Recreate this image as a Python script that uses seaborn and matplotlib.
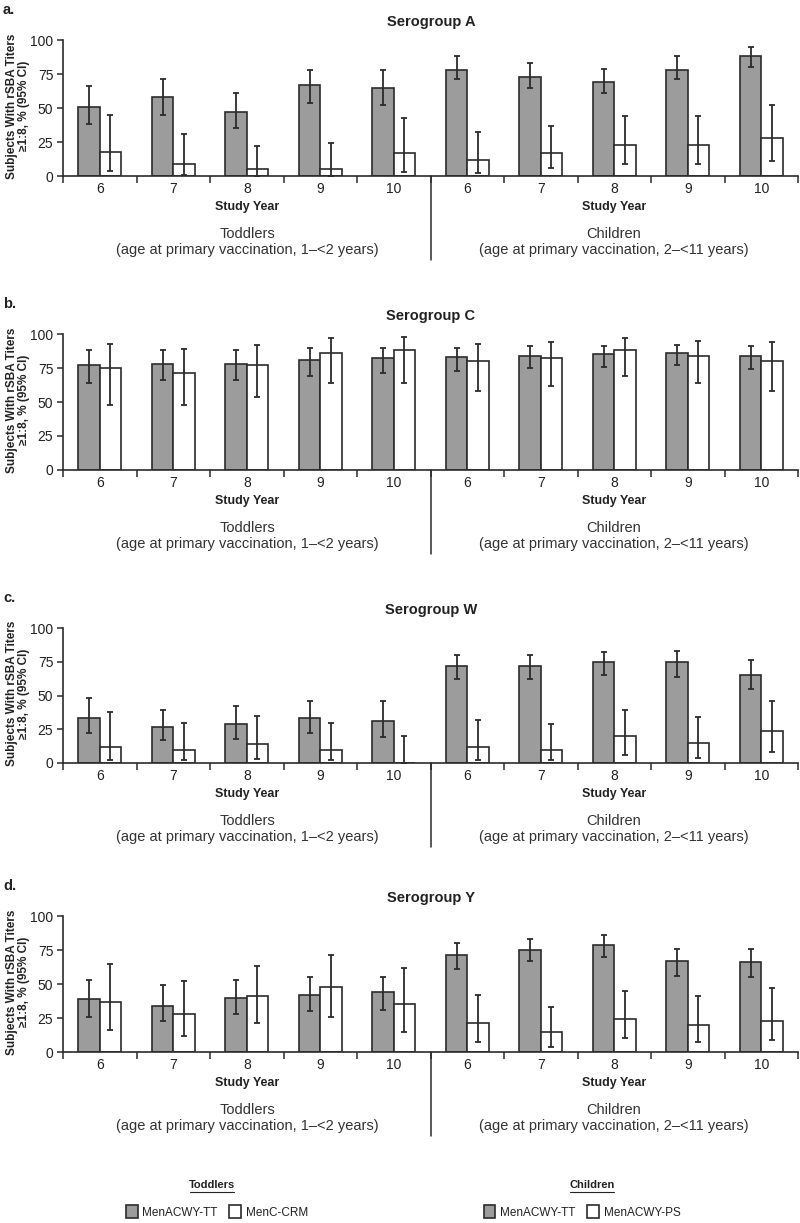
import numpy as np
import pandas as pd
import matplotlib
matplotlib.use("Agg")
import matplotlib.pyplot as plt
from matplotlib.lines import Line2D
import seaborn as sns

# x positions: toddlers years 6-10, then children years 6-10
years = [6, 7, 8, 9, 10, 6, 7, 8, 9, 10]

# Serogroup A
a_tt = [51, 58, 47, 67, 65, 78, 73, 69, 78, 88]
a_tt_lo = [38, 45, 35, 54, 52, 71, 65, 61, 71, 80]
a_tt_hi = [66, 71, 61, 78, 78, 88, 83, 79, 88, 95]
a_cmp = [18, 9, 5, 5, 17, 12, 17, 23, 23, 28]
a_cmp_lo = [4, 1, 0, 0, 3, 2, 6, 9, 9, 11]
a_cmp_hi = [45, 31, 22, 24, 43, 32, 37, 44, 44, 52]

# Serogroup C
c_tt = [77, 78, 78, 81, 82, 83, 84, 85, 86, 84]
c_tt_lo = [64, 66, 66, 69, 71, 73, 75, 76, 77, 74]
c_tt_hi = [88, 88, 88, 90, 90, 90, 91, 91, 92, 91]
c_cmp = [75, 71, 77, 86, 88, 80, 82, 88, 84, 80]
c_cmp_lo = [48, 48, 54, 64, 64, 58, 62, 69, 64, 58]
c_cmp_hi = [93, 89, 92, 97, 98, 93, 94, 97, 95, 94]

# Serogroup W
w_tt = [33, 27, 29, 33, 31, 72, 72, 75, 75, 65]
w_tt_lo = [22, 17, 18, 22, 19, 62, 62, 65, 64, 55]
w_tt_hi = [48, 39, 42, 46, 46, 80, 80, 82, 83, 76]
w_cmp = [12, 10, 14, 10, 0, 12, 10, 20, 15, 24]
w_cmp_lo = [2, 2, 3, 2, 0, 2, 2, 6, 4, 8]
w_cmp_hi = [38, 30, 35, 30, 20, 32, 29, 39, 34, 46]

# Serogroup Y
y_tt = [39, 34, 40, 42, 44, 71, 75, 79, 67, 66]
y_tt_lo = [26, 23, 28, 30, 31, 61, 67, 70, 56, 55]
y_tt_hi = [53, 49, 53, 55, 55, 80, 83, 86, 76, 76]
y_cmp = [37, 28, 41, 48, 35, 21, 15, 24, 20, 23]
y_cmp_lo = [16, 12, 21, 26, 15, 7, 4, 10, 7, 9]
y_cmp_hi = [65, 52, 63, 71, 62, 42, 33, 45, 41, 47]

GRAY = '#9c9c9c'
EDGE = '#2b2b2b'
TXT = '#222222'
W, H = 800, 1223


def fx(x):
    return x / W


def fy(y):
    return 1 - y / H


def draw_panel(fig, letter, title, tt, tt_lo, tt_hi, cmp, cmp_lo, cmp_hi, top, zero):
    ax = fig.add_axes([fx(63), fy(zero), fx(798) - fx(63), (zero - top) / H])
    df = pd.DataFrame({
        'slot': list(range(10)) * 2,
        'arm': ['MenACWY-TT'] * 10 + ['Comparator'] * 10,
        'pct': tt + cmp,
    })
    sns.barplot(data=df, x='slot', y='pct', hue='arm',
                hue_order=['MenACWY-TT', 'Comparator'],
                palette=[GRAY, 'white'], width=0.58, gap=0,
                edgecolor=EDGE, linewidth=1.2, errorbar=None,
                legend=False, ax=ax)
    # confidence intervals on top of each bar
    for cont, mid, lo, hi in zip(ax.containers, [tt, cmp], [tt_lo, cmp_lo], [tt_hi, cmp_hi]):
        xs = [b.get_x() + b.get_width() / 2 for b in cont]
        mid = np.array(mid)
        err = [mid - np.array(lo), np.array(hi) - mid]
        ax.errorbar(xs, mid, yerr=err, fmt='none', ecolor=EDGE,
                    elinewidth=1.3, capsize=2.5, capthick=1.3, zorder=5)

    ax.set_xlim(-0.5, 9.5)
    ax.set_ylim(0, 100)
    ax.set_xticks(np.arange(-0.5, 10, 1))
    ax.set_xticklabels([])
    ax.set_xticks(range(10), minor=True)
    ax.set_xticklabels([str(y) for y in years], minor=True)
    ax.tick_params(axis='x', which='major', direction='out', length=5, width=1.1, color=EDGE)
    ax.tick_params(axis='x', which='minor', length=0, pad=4, labelsize=10, labelcolor=TXT)
    ax.set_yticks([0, 25, 50, 75, 100])
    ax.tick_params(axis='y', direction='out', length=4, width=1.1, color=EDGE,
                   labelsize=10, labelcolor=TXT, pad=3)
    ax.set_xlabel('')
    ax.set_ylabel('')
    for s in ['top', 'right']:
        ax.spines[s].set_visible(False)
    for s in ['left', 'bottom']:
        ax.spines[s].set_color(EDGE)
        ax.spines[s].set_linewidth(1.2)

    # divider between toddlers and children
    ax.plot([4.5, 4.5], [0, -84 / (zero - top)], transform=ax.get_xaxis_transform(),
            color=EDGE, lw=1.1, clip_on=False)

    fig.text(fx(3), fy(top - 30), letter, fontsize=10.5, fontweight='bold',
             color=TXT, ha='left', va='center')
    fig.text(fx(431), fy(top - 18), title, fontsize=10.5, fontweight='bold',
             color=TXT, ha='center', va='center')
    fig.text(fx(18), fy((top + zero) / 2 - 2), 'Subjects With rSBA Titers\n\u22651:8, % (95% CI)',
             rotation=90, fontsize=8.5, fontweight='bold', color=TXT,
             ha='center', va='center', linespacing=1.1)

    for xc, grp, age in [(247, 'Toddlers', '(age at primary vaccination, 1\u2013<2 years)'),
                         (614, 'Children', '(age at primary vaccination, 2\u2013<11 years)')]:
        fig.text(fx(xc), fy(zero + 31), 'Study Year', fontsize=9, fontweight='bold',
                 color=TXT, ha='center', va='center')
        fig.text(fx(xc), fy(zero + 58), grp, fontsize=10.5, color='#333333',
                 ha='center', va='center')
        fig.text(fx(xc), fy(zero + 74), age, fontsize=10.5, color='#333333',
                 ha='center', va='center')
    return ax


sns.set_style('ticks')
plt.rcParams['font.family'] = ['Liberation Sans', 'DejaVu Sans']

fig = plt.figure(figsize=(8, 12.23), dpi=100)

panels = [
    ('a.', 'Serogroup A', a_tt, a_tt_lo, a_tt_hi, a_cmp, a_cmp_lo, a_cmp_hi, 40, 176),
    ('b.', 'Serogroup C', c_tt, c_tt_lo, c_tt_hi, c_cmp, c_cmp_lo, c_cmp_hi, 334, 470),
    ('c.', 'Serogroup W', w_tt, w_tt_lo, w_tt_hi, w_cmp, w_cmp_lo, w_cmp_hi, 628, 763),
    ('d.', 'Serogroup Y', y_tt, y_tt_lo, y_tt_hi, y_cmp, y_cmp_lo, y_cmp_hi, 916, 1052),
]
axes = [draw_panel(fig, *p) for p in panels]

# legends at the bottom
last = axes[-1]
h_tt = last.containers[0][0]
h_cmp = last.containers[1][0]
for xc, head, labels in [(217, 'Toddlers', ['MenACWY-TT', 'MenC-CRM']),
                         (582, 'Children', ['MenACWY-TT', 'MenACWY-PS'])]:
    fig.legend(handles=[h_tt, h_cmp], labels=labels, loc='center',
               bbox_to_anchor=(fx(xc), fy(1212)), ncol=2, frameon=False,
               fontsize=8.5, handlelength=1.0, handleheight=1.3,
               handletextpad=0.4, columnspacing=1.0, labelcolor=TXT)
for xc, head in [(212, 'Toddlers'), (592, 'Children')]:
    fig.text(fx(xc), fy(1185), head, fontsize=8, fontweight='bold', color=TXT,
             ha='center', va='center')
    fig.add_artist(Line2D([fx(xc - 22), fx(xc + 22)], [fy(1192), fy(1192)],
                          transform=fig.transFigure, color=TXT, lw=0.8))

fig.savefig('out.png', dpi=100)
